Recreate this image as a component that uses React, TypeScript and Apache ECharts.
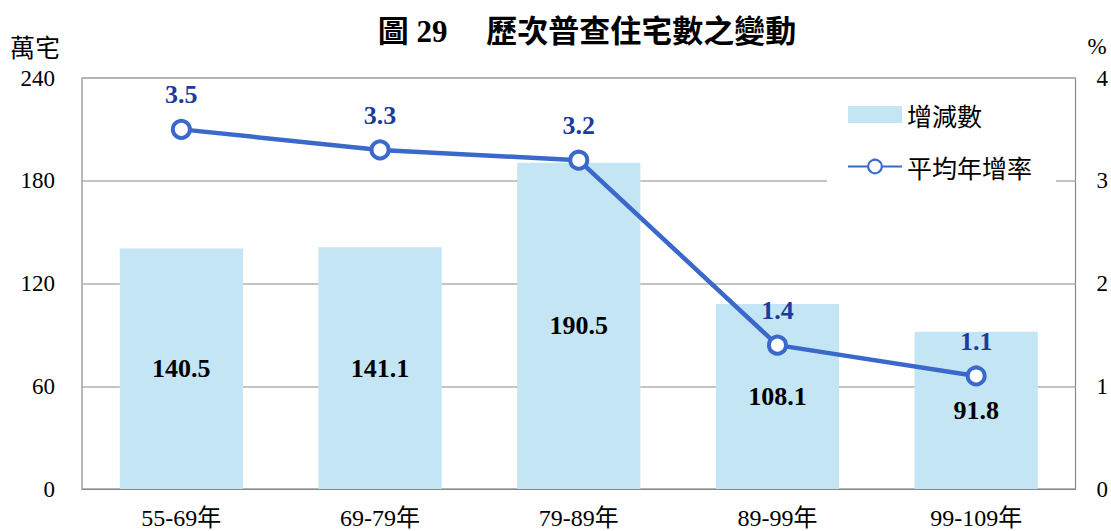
import React, { useEffect, useRef } from "react";
import * as echarts from "echarts";

const categories = ["55-69年", "69-79年", "79-89年", "89-99年", "99-109年"];
const barValues = [140.5, 141.1, 190.5, 108.1, 91.8];
const rateValues = [3.5, 3.3, 3.2, 1.4, 1.1];
const leftTicks = [0, 60, 120, 180, 240];
const rightTicks = [0, 1, 2, 3, 4];

const SERIF = "'Liberation Serif', 'Times New Roman', 'Noto Sans CJK TC', serif";

export default function App() {
  const ref = useRef<HTMLDivElement>(null);
  useEffect(() => {
    if (!ref.current) return;
    const chart = echarts.init(ref.current, undefined, { renderer: "svg" });
    chart.setOption({
      animation: false,
      backgroundColor: "#ffffff",
      title: {
        text: "圖 29　 歷次普查住宅數之變動",
        left: 582,
        textAlign: "center",
        top: 11,
        textStyle: {
          fontFamily: "'Liberation Serif', 'Noto Sans CJK TC', serif",
          fontWeight: "bold",
          fontSize: 31,
          color: "#000",
        },
      },
      legend: {
        orient: "vertical",
        left: 827,
        top: 96,
        padding: [6, 24, 6, 20],
        backgroundColor: "#ffffff",
        itemWidth: 54,
        itemHeight: 17,
        itemGap: 27,
        textStyle: { fontFamily: "'Noto Sans CJK TC', sans-serif", fontSize: 25, color: "#000" },
        data: [
          { name: "增減數", icon: "rect" },
          { name: "平均年增率" },
        ],
      },
      grid: { left: 82, right: 35, top: 78, bottom: 42, show: true, borderColor: "#888", borderWidth: 1.2 },
      xAxis: {
        type: "category",
        data: categories,
        axisLine: { lineStyle: { color: "#888", width: 1.2 } },
        axisTick: { show: false },
        axisLabel: { fontFamily: SERIF, fontSize: 24, color: "#000", margin: 17 },
      },
      yAxis: [
        {
          type: "value",
          min: leftTicks[0],
          max: leftTicks[leftTicks.length - 1],
          interval: 60,
          name: "萬宅",
          nameGap: 20,
          nameTextStyle: { fontFamily: "'Noto Sans CJK TC', serif", fontSize: 25, color: "#000", align: "right", padding: [0, 22, 0, 0] },
          axisLine: { show: false },
          axisTick: { show: false },
          splitLine: { lineStyle: { color: "#b0b0b0", width: 1.5 } },
          axisLabel: { fontFamily: SERIF, fontSize: 23, color: "#000", margin: 27 },
        },
        {
          type: "value",
          min: rightTicks[0],
          max: rightTicks[rightTicks.length - 1],
          interval: 1,
          name: "%",
          nameGap: 20,
          nameTextStyle: { fontFamily: SERIF, fontSize: 23, color: "#000", align: "left", padding: [0, 0, 0, 12] },
          axisLine: { show: false },
          axisTick: { show: false },
          splitLine: { show: false },
          axisLabel: { fontFamily: SERIF, fontSize: 23, color: "#000", margin: 21 },
        },
      ],
      series: [
        {
          name: "增減數",
          type: "bar",
          data: barValues,
          barWidth: "62%",
          itemStyle: { color: "#C3E5F4" },
          label: {
            show: true,
            position: "inside",
            fontFamily: SERIF,
            fontWeight: "bold",
            fontSize: 26,
            color: "#000",
          },
        },
        {
          name: "平均年增率",
          type: "line",
          yAxisIndex: 1,
          data: rateValues,
          symbol: "circle",
          symbolSize: 17,
          lineStyle: { color: "#3A68CB", width: 4.5 },
          itemStyle: { color: "#ffffff", borderColor: "#3A68CB", borderWidth: 4 },
          label: {
            show: true,
            position: "top",
            distance: 11,
            fontFamily: SERIF,
            fontWeight: "bold",
            fontSize: 26,
            color: "#1B3C9C",
            formatter: (p: any) => Number(p.value).toFixed(1),
          },
          z: 3,
        },
      ],
    });
    return () => chart.dispose();
  }, []);
  return <div ref={ref} style={{ position: "fixed", left: 0, top: 0, width: 1111, height: 531 }} />;
}
